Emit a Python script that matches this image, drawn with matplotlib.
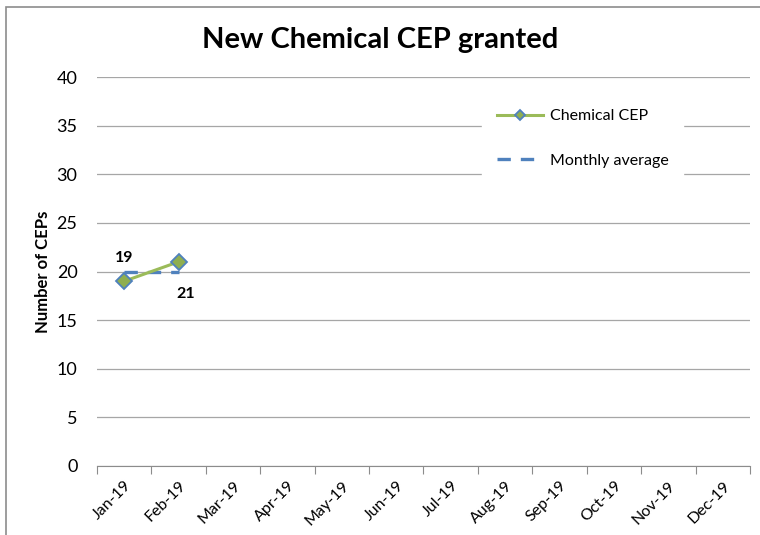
import matplotlib
matplotlib.use("Agg")
import matplotlib.pyplot as plt
from matplotlib.patches import Rectangle

months = ["Jan-19", "Feb-19", "Mar-19", "Apr-19", "May-19", "Jun-19",
          "Jul-19", "Aug-19", "Sep-19", "Oct-19", "Nov-19", "Dec-19"]
cep_values = [19, 21]
avg_values = [20, 20]
y_ticks = [0, 5, 10, 15, 20, 25, 30, 35, 40]

plt.rcParams['font.family'] = ['Lato', 'DejaVu Sans']

fig = plt.figure(figsize=(7.6, 5.35), dpi=100)
ax = fig.add_axes([97/760, 1-466/535, (750-97)/760, (466-77)/535])

# outer frame
fig.patches.append(Rectangle((6/760, -0.05), 1.2, 1-7/535+0.05, transform=fig.transFigure,
                             fill=False, edgecolor='#8c8c8c', linewidth=1.2))

x_cep = list(range(len(cep_values)))
x_avg = list(range(len(avg_values)))

ax.plot(x_avg, avg_values, color='#4F81BD', linestyle=(0, (4, 3)), linewidth=2.4,
        label='Monthly average', zorder=3)
ax.plot(x_cep, cep_values, color='#9BBB59', linewidth=2.2, marker='D', markersize=8,
        markerfacecolor='#8FAE4F', markeredgecolor='#4F81BD', markeredgewidth=1.3,
        label='Chemical CEP', zorder=4)

ax.annotate(str(cep_values[0]), (x_cep[0], cep_values[0]), xytext=(0, 17),
            textcoords='offset points', ha='center', va='center', fontsize=11.5, fontweight='bold')
ax.annotate(str(cep_values[1]), (x_cep[1], cep_values[1]), xytext=(5, -23),
            textcoords='offset points', ha='center', va='center', fontsize=11.5, fontweight='bold')

ax.set_xlim(-0.5, len(months) - 0.5)
ax.set_ylim(0, 40)
ax.set_yticks(y_ticks)
ax.set_yticklabels([str(v) for v in y_ticks], fontsize=13)
ax.grid(axis='y', color='#a6a6a6', linewidth=0.9)
ax.set_axisbelow(True)

# category boundaries as tick marks, labels at centers
ax.set_xticks([i - 0.5 for i in range(len(months) + 1)])
ax.set_xticklabels([])
ax.tick_params(axis='x', which='major', length=6, color='#8c8c8c', direction='out')
ax.set_xticks(list(range(len(months))), minor=True)
ax.set_xticklabels(months, minor=True, rotation=45, ha='right', rotation_mode='anchor', fontsize=11.5)
ax.tick_params(axis='x', which='minor', length=0, pad=9)
ax.tick_params(axis='y', length=0, pad=14)

for s in ['top', 'right', 'left']:
    ax.spines[s].set_visible(False)
ax.spines['bottom'].set_color('#8c8c8c')

ax.set_ylabel('Number of CEPs', fontsize=12, fontweight='bold', labelpad=4)
fig.text(0.5, 1-40/535, 'New Chemical CEP granted', ha='center', va='center',
         fontsize=21, fontweight='bold')

h, l = ax.get_legend_handles_labels()
leg = ax.legend([h[1], h[0]], [l[1], l[0]], loc='upper left', bbox_to_anchor=(0.578, 0.975),
                frameon=True, framealpha=1, edgecolor='white', fontsize=11.5,
                labelspacing=1.9, handlelength=2.9, handletextpad=0.4, borderpad=0.9,
                fancybox=False, markerscale=0.7)

fig.savefig('out.png', dpi=100)
